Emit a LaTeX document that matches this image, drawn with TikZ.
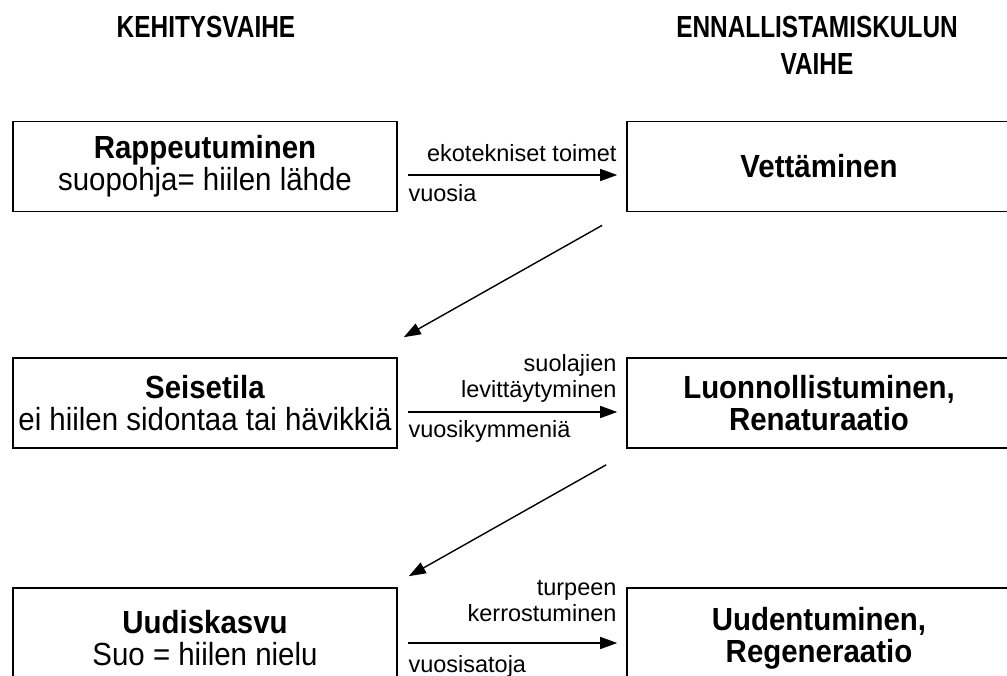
\documentclass[tikz,border=0pt]{standalone}
\usepackage{fontspec}
\setmainfont{Liberation Sans}
\newfontfamily\boxfont{Liberation Sans}[FakeStretch=0.92]
\newfontfamily\narrowfont{Liberation Sans}[FakeStretch=0.80]
\usetikzlibrary{arrows.meta}

\tikzset{
    stage/.style={draw=black, line width=1.6pt, minimum width=384pt, minimum height=90pt,
        inner sep=0pt, align=center, font=\fontsize{32pt}{32pt}\boxfont},
    phase/.style={stage, font=\fontsize{32pt}{32pt}\boxfont\bfseries},
    flow/.style={-{Triangle[length=17pt, width=12pt]}, line width=1.4pt, black},
    note/.style={inner sep=0pt, text depth=0pt, align=right, font=\fontsize{23.5pt}{26pt}\selectfont},
    heading/.style={inner sep=0pt, align=center, font=\fontsize{30.5pt}{37pt}\narrowfont\bfseries},
}

\begin{document}
\begin{tikzpicture}[x=1pt, y=-1pt]
    \clip (0,0) rectangle (1007,676);

    % column headings
    \node[heading] (devhead) at (206,27) {KEHITYSVAIHE};
    \node[heading] (resthead) at (817,45.5) {ENNALLISTAMISKULUN\\VAIHE};

    % development stages on the left, restoration phases on the right
    \node[stage] (rapp) at (205,166.5) {\textbf{Rappeutuminen}\\suopohja= hiilen lähde};
    \node[phase] (vett) at (819,166.5) {Vettäminen};
    \node[stage] (seis) at (205,403) {\textbf{Seisetila}\\ei hiilen sidontaa tai hävikkiä};
    \node[phase] (luon) at (819,403) {Luonnollistuminen,\\Renaturaatio};
    \node[stage, minimum height=100pt] (uudi) at (205,638) {\textbf{Uudiskasvu}\\Suo = hiilen nielu};
    \node[phase, minimum height=100pt] (rege) at (819,638) {Uudentuminen,\\Regeneraatio};

    % left to right: what happens and how long it takes
    \draw[flow] ([shift={(10,8.5)}]rapp.east) -- ([shift={(-9,8.5)}]vett.west)
        node[note, pos=1, anchor=south east, yshift=13pt] (eko) {ekotekniset toimet}
        node[note, pos=0, anchor=base west, yshift=-27pt] (vuo) {vuosia};
    \draw[flow] ([shift={(10,9)}]seis.east) -- ([shift={(-9,9)}]luon.west)
        node[note, pos=1, anchor=south east, yshift=14pt] (lev) {suolajien\\levittäytyminen}
        node[note, pos=0, anchor=base west, yshift=-25pt] (vkym) {vuosikymmeniä};
    \draw[flow] ([shift={(10,5)}]uudi.east) -- ([shift={(-9,5)}]rege.west)
        node[note, pos=1, anchor=south east, yshift=21pt] (ker) {turpeen\\kerrostuminen}
        node[note, pos=0, anchor=base west, yshift=-29pt] (vsat) {vuosisatoja};

    % back down to the next stage
    \draw[flow] ([shift={(-24,13)}]vett.south west) -- ([shift={(6,-20)}]seis.north east);
    \draw[flow] ([shift={(-20,16)}]luon.south west) -- ([shift={(11,-11)}]uudi.north east);

\end{tikzpicture}
\end{document}
